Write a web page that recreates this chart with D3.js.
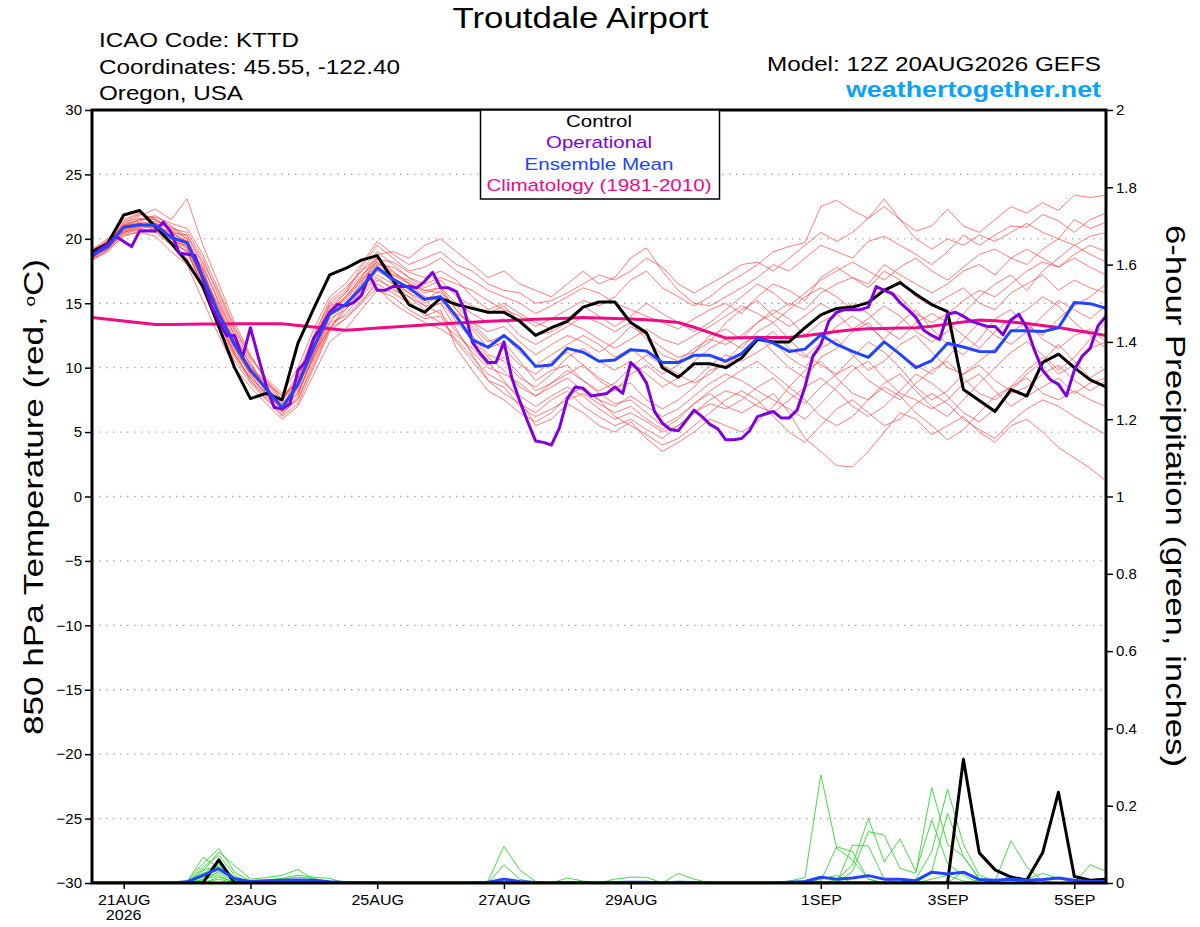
<!DOCTYPE html>
<html><head><meta charset="utf-8">
<script src="https://cdn.jsdelivr.net/npm/d3@7"></script>
<style>
body{margin:0;background:#fff}
text{font-family:"Liberation Sans",Arial,Helvetica,sans-serif}
</style>
</head><body>
<svg id="c" width="1200" height="927"></svg>
<script>
// ---------------- DATA ----------------
const startTimeUTC = Date.UTC(2026, 7, 20, 12);   // model run 12Z 20AUG2026
const tempTicks = [-30,-25,-20,-15,-10,-5,0,5,10,15,20,25,30];
const precipTicks = [0,0.2,0.4,0.6,0.8,1,1.2,1.4,1.6,1.8,2];
const precipTickLabels = ["0","0.2","0.4","0.6","0.8","1","1.2","1.4","1.6","1.8","2"];
const dateTicks = ["2026-08-21","2026-08-23","2026-08-25","2026-08-27","2026-08-29","2026-09-01","2026-09-03","2026-09-05"];
const dateTickLabels = ["21AUG","23AUG","25AUG","27AUG","29AUG","1SEP","3SEP","5SEP"];
const legendLabels = ["Control","Operational","Ensemble Mean","Climatology (1981-2010)"];

// 6-hourly 850 hPa temperature (C)
const control = [19.0,19.65,21.85,22.2,20.95,19.65,18.2,16.3,13.2,10.0,
 7.6,8.0,7.5,11.9,14.6,17.2,17.7,18.35,18.7,16.8,
 14.9,14.3,15.4,14.9,14.6,14.3,14.3,13.6,12.5,13.1,
 13.6,14.7,15.1,15.1,13.5,12.7,10.0,9.25,10.3,10.3,
 10.0,10.75,12.2,12.0,12.0,13.1,14.1,14.6,14.7,15.05,
 16.0,16.6,15.7,14.9,14.35,8.3,7.45,6.6,8.3,7.8,
 10.4,11.05,10.0,9.05,8.5];
const ensembleMean = [18.7,19.4,20.9,21.1,21.06,20.1,19.7,17.0,14.15,11.8,
 9.8,8.35,6.9,8.7,11.6,14.15,14.9,16.2,17.75,16.85,
 16.2,15.3,15.5,13.98,12.17,11.58,12.5,11.5,10.1,10.2,
 11.5,11.2,10.5,10.6,11.4,11.3,10.4,10.4,10.96,10.96,
 10.5,11.1,12.3,11.9,11.26,11.44,12.55,11.8,11.26,10.8,
 12.0,11.05,10.0,10.55,11.9,11.6,11.26,11.24,12.86,12.86,
 12.8,13.1,15.05,14.97,14.6];
const climatology = [13.9,13.76,13.62,13.48,13.35,13.36,13.37,13.38,13.39,13.4,
 13.4,13.4,13.4,13.27,13.15,13.02,12.9,12.99,13.07,13.15,
 13.24,13.32,13.39,13.46,13.53,13.6,13.65,13.7,13.75,13.8,
 13.84,13.89,13.86,13.82,13.77,13.72,13.63,13.51,13.14,12.72,
 12.3,12.32,12.35,12.35,12.35,12.48,12.63,12.8,12.95,13.02,
 13.04,13.07,13.1,13.22,13.38,13.54,13.69,13.64,13.55,13.43,
 13.27,13.12,12.91,12.71,12.5];
// 3-hourly operational run
const operational = [18.6,19.2,19.6,20.2,19.8,19.4,20.6,20.6,20.6,21.3,
 20.5,18.9,18.8,18.7,16.9,14.9,13.6,12.5,12.5,10.8,
 13.1,10.8,8.6,6.9,6.8,7.2,9.8,10.5,12.3,13.2,
 14.3,14.9,14.8,15.05,15.6,17.2,16.0,16.0,16.3,16.3,
 16.3,16.2,16.7,17.4,16.2,16.2,15.9,14.5,12.0,11.1,
 10.4,10.4,12.0,9.2,7.4,5.8,4.3,4.2,4.0,5.3,
 7.6,8.5,8.4,7.8,7.9,8.0,8.5,8.0,10.4,9.8,
 8.8,6.6,5.7,5.2,5.1,5.9,6.7,6.2,5.6,5.25,
 4.4,4.4,4.5,5.1,6.2,6.4,6.6,6.1,6.1,6.7,
 8.5,10.9,11.8,13.6,14.3,14.5,14.5,14.5,14.7,16.3,
 16.0,15.75,15.05,14.5,13.9,12.9,12.5,12.2,14.15,14.3,
 14.0,13.6,13.4,13.2,13.2,12.55,13.7,14.15,13.1,11.3,
 9.8,9.05,8.7,7.8,9.8,10.9,11.5,13.25,14.0];

// ensemble members (6-hourly temperature)
const member01 = [19.0,19.8,21.0,21.5,21.8,21.0,20.2,18.0,15.0,12.5,10.2,8.5,7.0,8.0,11.0,14.0,15.5,17.0,18.5,17.5,16.5,16.0,16.2,
 15.0,14.2,13.5,13.8,12.5,11.8, 12.5,13.2,14.0,13.5,12.8,13.5, 12.2,11.0,10.5,11.5,12.2,11.8, 12.5,13.5,14.2,15.0,14.5,15.8, 16.5,17.0,16.2,17.5,16.8,15.5, 14.8,15.5,16.2,15.0,14.5,15.8, 16.5,17.2,16.0,16.8,16.2,15.8];
const member02 = [18.5,19.2,20.5,20.8,20.5,19.5,18.5,16.0,13.2,10.8,9.0,7.8,6.5,7.5,10.5,13.0,14.5,16.0,17.5,16.8,15.8,14.8,15.0,
 13.0,11.0,9.0,8.0,7.2,6.5, 7.5,8.2,7.0,6.2,5.5,6.0, 5.2,4.5,5.5,6.5,7.2,6.8, 7.5,8.5,9.2,8.0,7.2,8.5, 9.5,10.2,9.0,8.2,7.5,8.8, 9.8,10.5,9.2,8.0,7.5,8.5, 9.2,8.0,7.5,8.2,7.5,7.0];
const member03 = [18.8,19.5,21.2,21.8,22.3,21.5,23.1,19.5,16.5,13.5,11.0,9.0,7.5,9.5,12.5,15.0,16.0,17.5,19.0,18.0,17.0,16.5,17.0,
 16.5,16.0,15.2,14.5,14.0,13.2, 13.8,14.5,15.2,14.8,15.5,16.8, 17.5,16.2,15.5,14.8,15.5,16.5, 17.2,18.0,19.0,19.4,19.7,22.5, 23.0,22.2,21.6,22.5,21.5,20.6, 21.0,22.3,21.0,20.5,21.5,22.5, 22.0,22.8,22.2,23.4,23.2,23.4];
const member04 = [18.4,19.0,20.3,20.5,20.2,19.0,18.0,15.2,12.5,10.0,8.5,7.2,6.0,7.0,9.5,12.0,13.0,14.5,16.0,15.5,14.5,13.8,14.0,
 12.0,10.5,9.0,8.5,7.0,6.2, 6.8,7.5,8.0,7.2,6.5,7.0, 6.0,5.2,6.0,7.2,8.0,7.0, 6.5,7.2,8.0,6.5,4.5,3.5, 2.4,2.3,3.5,5.0,6.5,6.0, 4.8,5.5,6.2,5.0,4.2,5.5, 6.0,5.0,3.8,3.0,2.2,1.2];
const member05 = [19.2,20.0,21.5,22.0,21.5,20.5,19.8,17.5,14.5,12.0,10.0,8.8,7.8,9.0,12.0,14.5,15.5,17.0,18.8,19.0,18.5,19.5,20.0,
 19.0,18.0,17.0,17.5,16.5,16.0, 15.5,16.5,17.5,16.5,17.0,18.5, 19.3,17.5,16.0,15.0,14.8,15.5, 16.2,17.0,18.0,17.5,18.5,19.5, 19.0,18.5,19.8,20.2,19.5,18.8, 18.0,19.0,20.3,19.5,20.3,21.0, 20.9,21.9,21.4,20.5,21.5,22.0];
const member06 = [18.6,19.3,20.8,21.0,21.2,20.8,20.5,18.5,15.5,12.8,10.5,8.0,6.8,8.5,11.5,13.5,14.0,15.2,16.5,15.8,15.0,14.2,13.5,
 12.5,11.5,10.2,10.8,9.5,8.2, 8.8,9.5,10.2,9.0,8.2,9.5, 10.2,9.2,8.5,9.0,10.2,11.0, 10.5,11.2,12.0,10.8,10.0,11.5, 12.2,11.0,9.8,10.5,11.8,12.5, 11.2,10.0,9.5,10.5,11.5,12.8, 13.5,12.2,11.5,12.5,13.0,12.0];
const member07 = [18.9,19.6,20.6,20.9,21.0,20.0,19.0,16.5,13.5,11.0,9.2,8.0,7.0,9.2,12.2,14.8,15.8,17.8,19.5,18.5,17.5,17.8,18.5,
 17.5,16.8,16.0,15.5,15.0,14.2, 14.8,15.5,16.2,15.8,15.0,14.5, 14.0,13.5,13.0,13.8,14.5,15.0, 14.2,15.5,16.5,16.0,15.2,17.0, 17.8,17.0,16.5,18.0,17.2,16.5, 15.8,16.5,17.5,18.0,17.2,18.5, 19.2,18.5,17.8,18.8,19.5,19.0];
const member08 = [18.3,19.1,20.2,20.6,20.8,20.3,19.5,17.2,14.8,12.2,9.8,8.5,7.2,8.2,10.8,13.2,14.2,15.5,17.0,16.0,15.5,14.5,15.0,
 13.8,12.5,11.0,10.5,9.2,8.5, 9.5,10.8,11.5,10.5,9.8,10.5, 9.5,8.5,9.2,10.5,11.5,12.2, 11.5,12.8,13.5,12.2,11.0,10.2, 9.5,10.8,12.0,11.2,10.0,8.5, 7.5,8.2,9.5,10.2,9.0,8.2, 9.5,10.5,11.8,10.5,9.2,10.0];
const member09 = [18.7,19.6,21.3,21.6,21.3,20.2,19.2,16.8,14.0,11.5,9.5,7.8,6.3,7.8,11.2,14.5,15.8,17.2,18.2,17.0,16.2,15.0,15.5,
 14.0,12.0,10.5,9.0,7.5,5.5, 6.0,7.2,6.5,5.5,5.0,5.8, 4.5,3.5,4.2,5.0,6.0,5.5, 5.0,5.8,7.0,8.5,9.8,10.5, 9.2,8.0,7.5,8.8,9.5,8.2, 7.0,6.2,7.5,8.8,10.0,11.2, 12.0,11.0,9.8,10.8,12.2,13.5];
const member10 = [19.1,19.9,21.0,21.2,20.8,19.8,19.5,17.8,15.2,12.5,10.2,8.8,7.5,9.0,11.8,14.2,15.0,16.2,17.8,17.2,16.8,16.0,15.8,
 14.8,13.5,12.8,13.2,12.0,11.0, 11.8,12.5,12.0,11.2,12.0,13.2, 12.5,11.5,10.8,11.2,12.0,13.5, 14.5,15.2,14.0,13.2,14.0,15.0, 14.2,13.0,13.8,14.8,14.0,12.8, 12.0,12.8,14.2,15.5,16.5,17.2, 16.0,17.5,18.5,19.5,20.2,20.5];
const member11 = [18.5,19.4,20.7,21.0,21.4,20.9,20.0,17.0,13.8,11.2,9.0,7.5,6.6,8.8,12.0,14.8,15.2,16.8,18.0,16.5,15.8,15.2,16.0,
 14.5,13.0,11.5,12.0,10.5,9.0, 9.8,10.2,9.0,8.2,8.8,10.0, 11.0,10.2,9.5,8.8,9.5,10.5, 11.8,12.5,11.2,10.0,9.2,10.8, 11.5,12.8,13.5,12.0,11.0,10.2, 9.5,10.8,12.2,13.5,12.5,11.8, 12.8,14.0,15.2,14.5,13.8,14.8];
const member12 = [18.8,19.2,20.4,20.7,20.6,19.7,19.0,16.2,13.0,10.5,8.8,7.6,6.2,7.2,10.0,12.8,13.8,15.0,16.8,16.2,15.2,14.0,14.5,
 11.5,9.8,8.2,7.5,6.5,5.8, 6.5,7.8,8.5,7.5,6.2,5.5, 4.8,4.0,4.5,5.5,6.5,7.5, 8.2,7.5,6.2,5.0,4.2,5.5, 6.8,7.5,6.5,5.5,6.0,7.2, 8.0,7.2,6.0,5.2,4.5,5.8, 6.8,7.5,7.0,6.2,5.5,4.8];
const member13 = [19.0,19.7,21.1,21.4,21.7,21.2,20.8,18.8,16.0,13.2,10.8,9.2,8.0,10.0,13.0,15.5,16.5,18.0,19.8,18.8,18.0,18.5,19.0,
 18.0,17.5,16.5,16.0,15.8,15.0, 15.2,15.8,16.5,17.2,16.8,17.5, 18.5,17.8,16.5,15.8,16.5,17.2, 18.0,18.2,17.5,18.5,19.5,20.5, 19.8,20.5,21.6,23.1,21.5,20.0, 19.2,20.0,19.5,20.3,19.8,20.5, 21.2,20.5,20.0,21.5,20.8,21.3];
const member14 = [18.6,19.4,20.9,21.2,20.9,20.0,19.3,16.8,13.8,11.5,9.6,8.2,7.0,8.5,11.0,13.8,14.5,15.8,17.2,16.5,15.5,14.8,14.2,
 12.8,11.2,10.0,9.5,8.8,7.8, 8.5,9.2,8.2,7.5,7.0,7.8, 7.0,6.2,6.8,7.8,8.8,9.5, 9.0,8.2,7.5,6.8,6.0,7.2, 8.5,9.8,10.5,9.2,8.0,7.5, 6.8,7.5,8.8,9.5,8.2,7.0, 7.8,8.5,9.2,8.0,8.8,9.2];
const member15 = [18.4,19.2,20.6,21.0,21.1,20.4,19.8,17.5,14.2,11.6,9.4,8.0,6.8,8.0,10.8,13.5,15.0,16.5,18.0,17.8,17.0,16.2,16.8,
 15.5,14.8,14.2,14.8,13.5,12.5, 12.8,13.5,13.0,12.2,11.5,12.2, 13.0,12.2,11.8,12.5,13.2,14.0, 14.8,14.2,13.5,14.5,15.5,16.2, 15.5,14.5,15.2,16.2,15.5,14.2, 13.5,14.2,15.2,16.0,15.5,16.5, 17.5,18.2,17.8,18.5,17.8,17.2];
const member16 = [18.9,19.8,21.4,21.9,21.6,20.6,19.6,17.2,14.6,12.0,10.0,8.6,7.4,9.2,12.5,15.2,16.2,17.5,18.5,17.2,16.5,15.5,15.2,
 14.2,13.5,12.2,11.5,10.2,9.5, 10.5,11.2,10.2,9.2,8.5,8.8, 7.5,6.8,7.5,8.5,9.8,10.2, 11.0,12.0,12.8,11.5,10.8,12.0, 13.2,14.0,13.2,12.2,13.5,14.5, 13.0,11.8,11.0,12.2,13.8,14.5, 13.2,12.5,13.8,14.8,15.5,16.5];
const member17 = [18.7,19.3,20.5,20.8,21.0,20.5,20.3,18.2,15.8,13.0,10.8,9.0,7.8,8.8,11.2,13.0,13.8,15.0,16.2,15.0,14.2,13.5,13.0,
 12.2,10.8,9.5,8.8,7.8,7.0, 7.8,8.5,7.8,6.8,6.0,6.5, 5.8,5.0,5.5,6.5,7.5,8.2, 7.8,7.0,6.5,7.5,8.5,9.2, 8.2,7.0,6.2,7.0,8.2,9.5, 8.8,7.8,6.5,5.8,6.8,8.0, 8.5,9.5,10.2,9.0,8.2,9.0];
const member18 = [19.0,19.5,21.0,21.3,21.2,20.2,19.4,16.6,13.5,11.0,9.2,8.0,6.6,7.6,10.2,13.0,14.8,16.6,18.4,18.2,17.4,17.0,17.5,
 16.8,15.5,14.5,15.0,14.2,13.5, 13.0,13.8,14.8,14.0,13.2,14.0, 15.0,14.2,13.5,12.8,13.5,14.5, 15.5,16.5,15.8,14.8,15.8,16.8, 17.5,18.2,17.5,16.8,17.8,18.5, 17.5,16.8,17.8,18.8,19.2,18.5, 18.0,19.2,20.0,19.5,18.8,18.2];
const member19 = [18.6,19.4,20.8,21.1,20.7,19.8,19.0,16.4,13.6,11.2,9.6,8.4,7.2,8.6,11.6,14.0,14.8,16.0,17.6,17.0,16.0,15.4,15.6,
 13.5,12.2,10.8,9.8,8.5,7.8, 8.8,9.8,9.0,8.0,7.2,7.5, 6.5,5.5,6.2,7.2,8.2,9.0, 9.8,10.5,9.5,8.5,7.5,6.2, 5.5,6.2,7.5,8.5,7.8,6.5, 5.5,4.4,5.2,6.5,7.8,8.5, 9.8,10.8,9.5,10.2,11.5,12.0];
const member20 = [18.8,19.6,21.1,21.5,21.5,20.7,20.0,17.6,14.4,11.8,9.8,8.2,6.9,8.4,11.4,14.4,15.4,16.8,18.2,17.4,16.6,15.8,16.2,
 14.5,13.2,12.0,12.5,11.2,10.2, 11.0,11.8,12.5,11.8,10.8,11.5, 10.5,9.5,10.2,11.2,12.5,13.0, 12.2,13.5,14.5,13.8,12.5,13.5, 14.2,15.0,14.2,13.0,12.2,13.5, 14.2,13.5,12.5,11.5,12.8,13.8, 14.5,15.5,14.8,13.5,12.5,11.5];
const members = [member01,member02,member03,member04,member05,member06,member07,member08,member09,member10,
 member11,member12,member13,member14,member15,member16,member17,member18,member19,member20];

// 6-hour precipitation (inches)
const precipControl = [0,0,0,0,0,0,0,0,0.06,0, 0,0,0,0,0,0,0,0,0,0, 0,0,0,0,0,0,0,0,0,0, 0,0,0,0,0,0,0,0,0,0, 0,0,0,0,0,0,0,0,0,0,
 0,0,0,0,0,0.32,0.078,0.034,0.015,0.008, 0.078,0.235,0.017,0.007,0.01];
const precipMean = [0,0,0,0,0,0,0.003,0.02,0.037,0.011, 0.004,0.006,0.007,0.008,0.007,0.003,0.001,0.001,0,0, 0,0,0,0,0,0.002,0.01,0.004,0.001,0,
 0.001,0,0,0.001,0.002,0.002,0,0.002,0.001,0, 0,0,0,0,0.002,0.004,0.015,0.01,0.013,0.019,
 0.01,0.01,0.006,0.028,0.023,0.028,0.009,0.007,0.01,0.007, 0.009,0.013,0.007,0.004,0.004];
const precipMember01 = [0,0,0,0,0,0,0.003,0.066,0.04,0.01, 0,0,0,0,0,0,0,0,0,0, 0,0,0,0,0,0.005,0.095,0.034,0.004,0, 0,0,0,0,0,0,0,0,0,0,
 0,0,0,0,0.005,0.014,0.28,0.09,0.06,0.01, 0,0,0,0,0,0,0,0,0,0, 0,0,0,0,0];
const precipMember02 = [0,0,0,0,0,0,0.005,0.05,0.089,0.028, 0.005,0,0,0,0,0,0,0,0,0, 0,0,0,0,0,0,0.047,0.01,0,0, 0,0,0,0,0,0,0,0,0,0,
 0,0,0,0,0,0,0.005,0.094,0.081,0.01, 0,0,0,0,0,0,0,0,0,0, 0,0,0,0,0];
const precipMember03 = [0,0,0,0,0,0,0,0.03,0.08,0.045, 0.01,0.014,0.02,0.035,0.008,0,0,0,0,0, 0,0,0,0,0,0,0,0,0,0, 0.013,0.005,0,0,0,0,0,0,0,0,
 0,0,0,0,0,0,0,0.008,0.047,0.167, 0.055,0.114,0.03,0.163,0.05,0.02,0,0,0,0, 0,0,0,0,0];
const precipMember04 = [0,0,0,0,0,0,0.002,0.04,0.072,0.02, 0,0,0.01,0.015,0.012,0.003,0,0,0,0, 0,0,0,0,0,0,0,0,0,0, 0,0,0,0,0,0,0,0,0,0,
 0,0,0,0,0,0,0,0,0.098,0.096, 0.01,0,0,0,0,0,0,0,0,0, 0,0,0,0,0];
const precipMember05 = [0,0,0,0,0,0,0,0.02,0.059,0.011, 0,0,0,0,0,0,0,0,0,0, 0,0,0,0,0,0,0,0,0,0, 0,0,0,0.01,0.015,0.015,0,0,0,0,
 0,0,0,0,0,0,0,0,0.03,0.133, 0.124,0.038,0.025,0.247,0.1,0.068,0.012,0,0,0, 0,0,0,0,0];
const precipMember06 = [0,0,0,0,0,0,0,0.01,0.05,0.007, 0,0,0,0,0,0,0,0,0,0, 0,0,0,0,0,0,0,0,0,0, 0,0,0,0,0,0,0,0.025,0.01,0,
 0,0,0,0,0,0,0,0,0,0, 0,0,0.01,0.081,0.243,0.1,0.02,0.005,0.109,0.042, 0.005,0,0,0,0];
const precipMember07 = [0,0,0,0,0,0,0,0.035,0.04,0.004, 0,0,0,0,0,0,0,0,0,0, 0,0,0,0,0,0,0,0,0,0, 0,0,0,0,0,0,0,0,0,0,
 0,0,0,0,0,0,0,0,0,0, 0,0,0,0.03,0.18,0.068,0.01,0,0,0, 0,0,0,0,0];
const precipMember08 = [0,0,0,0,0,0,0,0.025,0.035,0.01, 0,0,0,0,0,0,0,0,0,0, 0,0,0,0,0,0,0,0,0,0, 0,0,0,0,0,0,0,0,0,0,
 0,0,0,0,0,0,0,0,0,0, 0,0,0,0,0,0.03,0.012,0,0.02,0.005, 0,0,0,0.047,0.03];
const precipMember09 = [0,0,0,0,0,0,0,0.015,0.026,0.005, 0,0,0,0,0,0,0,0,0,0, 0,0,0,0,0,0,0,0,0,0, 0,0,0,0,0,0,0,0,0,0,
 0,0,0,0,0,0,0,0,0,0, 0,0,0,0,0,0,0,0,0,0.01, 0.025,0.012,0,0,0];
const precipMember10 = [0,0,0,0,0,0,0,0.008,0.02,0, 0,0,0,0,0.005,0.003,0,0,0,0, 0,0,0,0,0,0,0,0,0,0, 0,0,0,0,0,0,0,0,0,0,
 0,0,0,0,0.003,0,0,0,0,0, 0,0,0,0,0,0,0,0,0,0, 0,0,0,0,0];
const precipMember11 = [0,0,0,0,0,0,0,0,0.015,0.003, 0,0,0,0,0,0,0,0,0,0, 0,0,0,0,0,0,0,0,0,0, 0,0,0,0,0,0,0,0,0,0,
 0,0,0,0,0,0,0,0,0,0, 0,0,0,0.01,0.02,0.005,0,0,0,0, 0,0,0,0,0];
const precipMember12 = [0,0,0,0,0,0,0,0.005,0.03,0.01, 0.004,0.008,0.012,0.02,0.015,0.012,0,0,0,0, 0,0,0,0,0,0,0,0,0,0, 0,0,0,0,0,0,0,0,0,0,
 0,0,0,0,0,0,0,0,0,0, 0,0,0,0,0,0,0,0,0,0, 0,0,0,0,0];
const precipMember13 = [0,0,0,0,0,0,0,0,0.01,0, 0,0,0,0,0,0,0,0,0,0, 0,0,0,0,0,0,0,0,0,0, 0,0,0,0,0,0,0,0,0,0,
 0,0,0,0,0,0,0.01,0.02,0,0, 0,0,0,0,0,0,0.008,0,0,0, 0,0,0,0,0];
const precipMember14 = [0,0,0,0,0,0,0.004,0.02,0.045,0.015, 0,0,0,0,0,0,0,0,0,0, 0,0,0,0,0,0,0,0,0,0, 0,0,0,0,0,0,0,0,0,0,
 0,0,0,0,0,0,0,0,0,0, 0,0,0,0,0,0,0,0,0,0, 0,0,0,0,0];
const precipMembers = [precipMember01,precipMember02,precipMember03,precipMember04,precipMember05,precipMember06,precipMember07,
 precipMember08,precipMember09,precipMember10,precipMember11,precipMember12,precipMember13,precipMember14];

// ---------------- CHART ----------------
const svg = d3.select("#c");
svg.append("rect").attr("width",1200).attr("height",927).attr("fill","#fff");
const M = {l:92, r:1106, t:110, b:883};
const H6 = 6*3600e3, H3 = 3*3600e3;
const time6 = i => new Date(startTimeUTC + i*H6);
const time3 = i => new Date(startTimeUTC + i*H3);
const x = d3.scaleUtc().domain([time6(0), time6(64)]).range([M.l, M.r]);
const yT = d3.scaleLinear().domain([-30,30]).range([M.b, M.t]);
const yP = d3.scaleLinear().domain([0,2]).range([M.b, M.t]);

// the reference's lettering is wider than Arial at the same height
function widen(sel, f){
  sel.each(function(){
    const n = this.getComputedTextLength();
    d3.select(this).attr("textLength", n*f).attr("lengthAdjust","spacingAndGlyphs");
  });
}

svg.append("defs").append("clipPath").attr("id","plot")
  .append("rect").attr("x",M.l).attr("y",M.t).attr("width",M.r-M.l).attr("height",M.b-M.t);

// grid
svg.append("g").selectAll("line").data(tempTicks.filter(v=>v>-30 && v<30)).join("line")
  .attr("x1",M.l).attr("x2",M.r).attr("y1",d=>yT(d)).attr("y2",d=>yT(d))
  .attr("stroke","#a8a8a8").attr("stroke-width",1.3).attr("stroke-dasharray","1.5 5.5");

const plot = svg.append("g").attr("clip-path","url(#plot)");
const lineT6 = d3.line().x((d,i)=>x(time6(i))).y(d=>yT(d));
const lineT3 = d3.line().x((d,i)=>x(time3(i))).y(d=>yT(d));
const lineP6 = d3.line().x((d,i)=>x(time6(i))).y(d=>yP(d));

plot.append("g").selectAll("path").data(members).join("path")
  .attr("d",lineT6).attr("fill","none").attr("stroke","#ff3b3b").attr("stroke-width",0.85).attr("stroke-opacity",0.8);
plot.append("g").selectAll("path").data(precipMembers).join("path")
  .attr("d",lineP6).attr("fill","none").attr("stroke","#2fd62f").attr("stroke-width",0.9);

plot.append("path").datum(climatology).attr("d",lineT6).attr("fill","none").attr("stroke","#ee0b84").attr("stroke-width",3);
plot.append("path").datum(control).attr("d",lineT6).attr("fill","none").attr("stroke","#000").attr("stroke-width",3).attr("stroke-linejoin","round");
plot.append("path").datum(operational).attr("d",lineT3).attr("fill","none").attr("stroke","#8000dd").attr("stroke-width",3).attr("stroke-linejoin","round");
plot.append("path").datum(ensembleMean).attr("d",lineT6).attr("fill","none").attr("stroke","#2244ff").attr("stroke-width",3).attr("stroke-linejoin","round");
plot.append("path").datum(precipControl).attr("d",lineP6).attr("fill","none").attr("stroke","#000").attr("stroke-width",3).attr("stroke-linejoin","round");
plot.append("path").datum(precipMean).attr("d",lineP6).attr("fill","none").attr("stroke","#2244ff").attr("stroke-width",3).attr("stroke-linejoin","round");

// axes
function styleAxis(g){
  g.select(".domain").remove();
  g.selectAll(".tick line").attr("stroke","#000").attr("stroke-width",1.5);
  g.selectAll(".tick text").attr("fill","#000").style("font-size","15px")
   .style("font-family",'"Liberation Sans",Arial,sans-serif');
}
svg.append("g").attr("transform",`translate(${M.l},0)`)
  .call(d3.axisLeft(yT).tickValues(tempTicks).tickSize(7).tickPadding(3)).call(styleAxis);
svg.append("g").attr("transform",`translate(${M.r},0)`)
  .call(d3.axisRight(yP).tickValues(precipTicks).tickSize(7).tickPadding(3)
    .tickFormat((d,i)=>precipTickLabels[i])).call(styleAxis);
const dateObjs = dateTicks.map(s=>new Date(s+"T00:00:00Z"));
const xa = svg.append("g").attr("transform",`translate(0,${M.b})`)
  .call(d3.axisBottom(x).tickValues(dateObjs).tickSize(6).tickPadding(5)
    .tickFormat((d,i)=>dateTickLabels[i])).call(styleAxis);
widen(xa.selectAll(".tick text"), 1.07);
svg.append("text").attr("x",x(dateObjs[0])).attr("y",920).attr("text-anchor","middle")
  .style("font-size","15px").text("2026").call(widen,1.07);

// frame
svg.append("rect").attr("x",M.l).attr("y",M.t).attr("width",M.r-M.l).attr("height",M.b-M.t)
  .attr("fill","none").attr("stroke","#000").attr("stroke-width",3);

// legend
const lg = svg.append("g");
lg.append("rect").attr("x",480.5).attr("y",M.t).attr("width",239).attr("height",89)
  .attr("fill","#fff").attr("stroke","#000").attr("stroke-width",1.5);
const legendColors = ["#000","#8000dd","#2244ff","#ee0b84"];
const legendWidths = [66,106,149,225];
lg.selectAll("text").data(legendLabels).join("text")
  .attr("x",599).attr("y",(d,i)=>127+i*21.4).attr("text-anchor","middle")
  .attr("fill",(d,i)=>legendColors[i]).style("font-size","17px")
  .attr("textLength",(d,i)=>legendWidths[i]).attr("lengthAdjust","spacingAndGlyphs").text(d=>d);

// titles
svg.append("text").attr("x",580.5).attr("y",28).attr("text-anchor","middle").style("font-size","29px")
  .attr("textLength",256).attr("lengthAdjust","spacingAndGlyphs").text("Troutdale Airport");
const hdr = ["ICAO Code: KTTD","Coordinates: 45.55, -122.40","Oregon, USA"];
const hdrW = [200,301,144];
svg.append("g").selectAll("text").data(hdr).join("text")
  .attr("x",99).attr("y",(d,i)=>47+i*26.5).style("font-size","21px")
  .attr("textLength",(d,i)=>hdrW[i]).attr("lengthAdjust","spacingAndGlyphs").text(d=>d);
svg.append("text").attr("x",1101).attr("y",71).attr("text-anchor","end").style("font-size","21px")
  .attr("textLength",334).attr("lengthAdjust","spacingAndGlyphs").text("Model: 12Z 20AUG2026 GEFS");
svg.append("text").attr("x",1101).attr("y",97).attr("text-anchor","end").style("font-size","22px")
  .style("font-weight","bold").attr("fill","#0da2f7")
  .attr("textLength",255).attr("lengthAdjust","spacingAndGlyphs").text("weathertogether.net");

// axis titles
const yl = svg.append("text").attr("transform","translate(43,497) rotate(-90)").attr("text-anchor","middle")
  .style("font-size","28px").attr("textLength",476).attr("lengthAdjust","spacingAndGlyphs");
yl.append("tspan").text("850 hPa Temperature (red, ");
yl.append("tspan").attr("baseline-shift","super").style("font-size","15px").text("o");
yl.append("tspan").text("C)");
svg.append("text").attr("transform","translate(1166,496) rotate(90)").attr("text-anchor","middle")
  .style("font-size","28px").attr("textLength",542).attr("lengthAdjust","spacingAndGlyphs")
  .text("6-hour Precipitation (green, inches)");
</script>
</body></html>
